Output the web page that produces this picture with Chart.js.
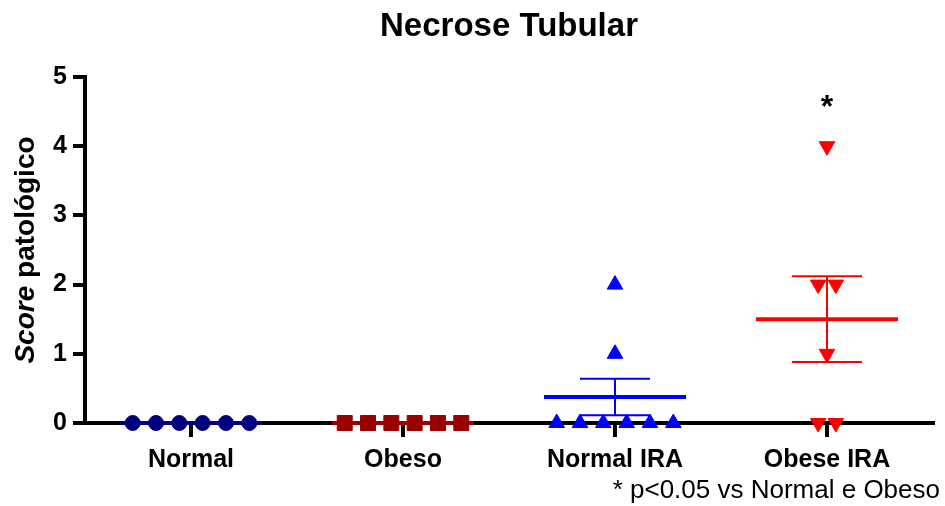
<!DOCTYPE html>
<html lang="pt-BR">
<head>
<meta charset="utf-8">
<title>Necrose Tubular</title>
<script src="https://cdn.jsdelivr.net/npm/chart.js@4.4.1/dist/chart.umd.min.js"></script>
<style>
  html, body { margin: 0; padding: 0; background: #fff; }
  #wrap { width: 945px; height: 506px; position: relative; }
</style>
</head>
<body>
<div id="wrap"><canvas id="chart"></canvas></div>
<script>
/* ============================================================
   Necrose Tubular — score patológico por grupo
   ============================================================ */

const categorias = ["Normal", "Obeso", "Normal IRA", "Obese IRA"];
const normal     = [0, 0, 0, 0, 0, 0];
const obeso      = [0, 0, 0, 0, 0, 0];
const normalIra  = [0, 0, 0, 0, 0, 0, 1, 2];
const obeseIra   = [0, 0, 1, 2, 2, 4];
const yTicks     = [0, 1, 2, 3, 4, 5];

const grupos  = [normal, obeso, normalIra, obeseIra];
const cores   = ["#00007f", "#9b0000", "#0000ff", "#ff0000"];
const FONT    = "'Liberation Sans', Arial, sans-serif";

// valores repetidos ficam lado a lado, centrados na coluna
function espalhar(valores, centro, passo) {
  const vistos = {};
  return valores.map(v => {
    const n = valores.filter(w => w === v).length;
    const k = vistos[v] = (vistos[v] ?? -1) + 1;
    return { x: centro + (k - (n - 1) / 2) * passo, y: v };
  });
}

function mediaEpm(v) {
  const n = v.length;
  const m = v.reduce((a, b) => a + b, 0) / n;
  const sd = Math.sqrt(v.reduce((a, b) => a + (b - m) ** 2, 0) / (n - 1));
  return { m, epm: sd / Math.sqrt(n) };
}

// ── média ± EPM, títulos e nota ──
const barrasErro = {
  id: "barrasErro",
  beforeDatasetsDraw(chart) {
    const { ctx, scales: { x, y } } = chart;
    ctx.save();
    grupos.forEach((g, i) => {
      const { m, epm } = mediaEpm(g);
      ctx.strokeStyle = cores[i];
      ctx.lineWidth = 4;
      ctx.beginPath();
      ctx.moveTo(x.getPixelForValue(i - 0.335), y.getPixelForValue(m));
      ctx.lineTo(x.getPixelForValue(i + 0.335), y.getPixelForValue(m));
      ctx.stroke();
      if (epm > 0) {
        ctx.lineWidth = 2;
        ctx.beginPath();
        ctx.moveTo(x.getPixelForValue(i), y.getPixelForValue(m - epm));
        ctx.lineTo(x.getPixelForValue(i), y.getPixelForValue(m + epm));
        [m - epm, m + epm].forEach(v => {
          ctx.moveTo(x.getPixelForValue(i - 0.165), y.getPixelForValue(v));
          ctx.lineTo(x.getPixelForValue(i + 0.165), y.getPixelForValue(v));
        });
        ctx.stroke();
      }
    });
    ctx.restore();
  },
  afterDraw(chart) {
    const { ctx, chartArea, scales: { x } } = chart;
    ctx.save();
    ctx.fillStyle = "#000";

    // título centrado sobre a área do gráfico
    ctx.textAlign = "center";
    ctx.textBaseline = "alphabetic";
    ctx.font = `bold 33px ${FONT}`;
    ctx.fillText("Necrose Tubular", (chartArea.left + chartArea.right) / 2, 36);

    // título do eixo y: "Score" em itálico
    ctx.translate(26, 250);
    ctx.rotate(-Math.PI / 2);
    ctx.textAlign = "left";
    ctx.textBaseline = "middle";
    const f1 = `italic bold 28px ${FONT}`;
    const f2 = `bold 28px ${FONT}`;
    ctx.font = f1;
    const w1 = ctx.measureText("Score").width;
    ctx.font = f2;
    const w2 = ctx.measureText(" patológico").width;
    const x0 = -(w1 + w2) / 2;
    ctx.font = f1;
    ctx.fillText("Score", x0, 0);
    ctx.font = f2;
    ctx.fillText(" patológico", x0 + w1, 0);
    ctx.setTransform(1, 0, 0, 1, 0, 0);

    // significância
    ctx.textAlign = "center";
    ctx.textBaseline = "alphabetic";
    ctx.font = `bold 32px ${FONT}`;
    ctx.fillText("*", x.getPixelForValue(3), 117);

    ctx.textAlign = "right";
    ctx.font = `26px ${FONT}`;
    ctx.fillText("* p<0.05 vs Normal e Obeso", 940, 498);
    ctx.restore();
  }
};

const estilos = ["circle", "rect", "triangle", "triangle"];
const raios   = [7.5, 10.6, 9, 9];
const passos  = [0.11, 0.11, 0.11, 0.083];

new Chart(document.getElementById("chart"), {
  type: "scatter",
  data: {
    datasets: grupos.map((g, i) => ({
      label: categorias[i],
      data: espalhar(g, i, passos[i]),
      pointStyle: estilos[i],
      rotation: i === 3 ? 180 : 0,
      pointRadius: raios[i],
      pointHoverRadius: raios[i],
      backgroundColor: cores[i],
      borderColor: cores[i],
      borderWidth: 1,
      clip: false,
    }))
  },
  options: {
    responsive: true,
    maintainAspectRatio: false,
    animation: false,
    events: [],
    layout: { padding: { left: 0, right: 12, top: 77, bottom: 0 } },
    plugins: {
      legend: { display: false },
      tooltip: { enabled: false },
    },
    scales: {
      x: {
        type: "linear",
        min: -0.5,
        max: 3.5,
        bounds: "data",
        afterBuildTicks: s => { s.ticks = categorias.map((c, i) => ({ value: i })); },
        afterFit: s => { s.height = 83; },
        grid: { display: true, drawOnChartArea: false, drawTicks: true, tickLength: 14, lineWidth: 4, color: "#000" },
        border: { display: true, width: 4, color: "#000" },
        ticks: {
          autoSkip: false,
          maxRotation: 0,
          padding: 8,
          color: "#000",
          font: { family: FONT, size: 25, weight: "bold" },
          callback: v => categorias[v],
        },
      },
      y: {
        min: 0,
        max: 5,
        bounds: "data",
        afterBuildTicks: s => { s.ticks = yTicks.map(v => ({ value: v })); },
        afterFit: s => { s.width = 85; },
        grid: { display: true, drawOnChartArea: false, drawTicks: true, tickLength: 12, lineWidth: 4, color: "#000" },
        border: { display: true, width: 4, color: "#000" },
        ticks: {
          padding: 6,
          color: "#000",
          font: { family: FONT, size: 25, weight: "bold" },
        },
      },
    },
  },
  plugins: [barrasErro],
});
</script>
</body>
</html>
